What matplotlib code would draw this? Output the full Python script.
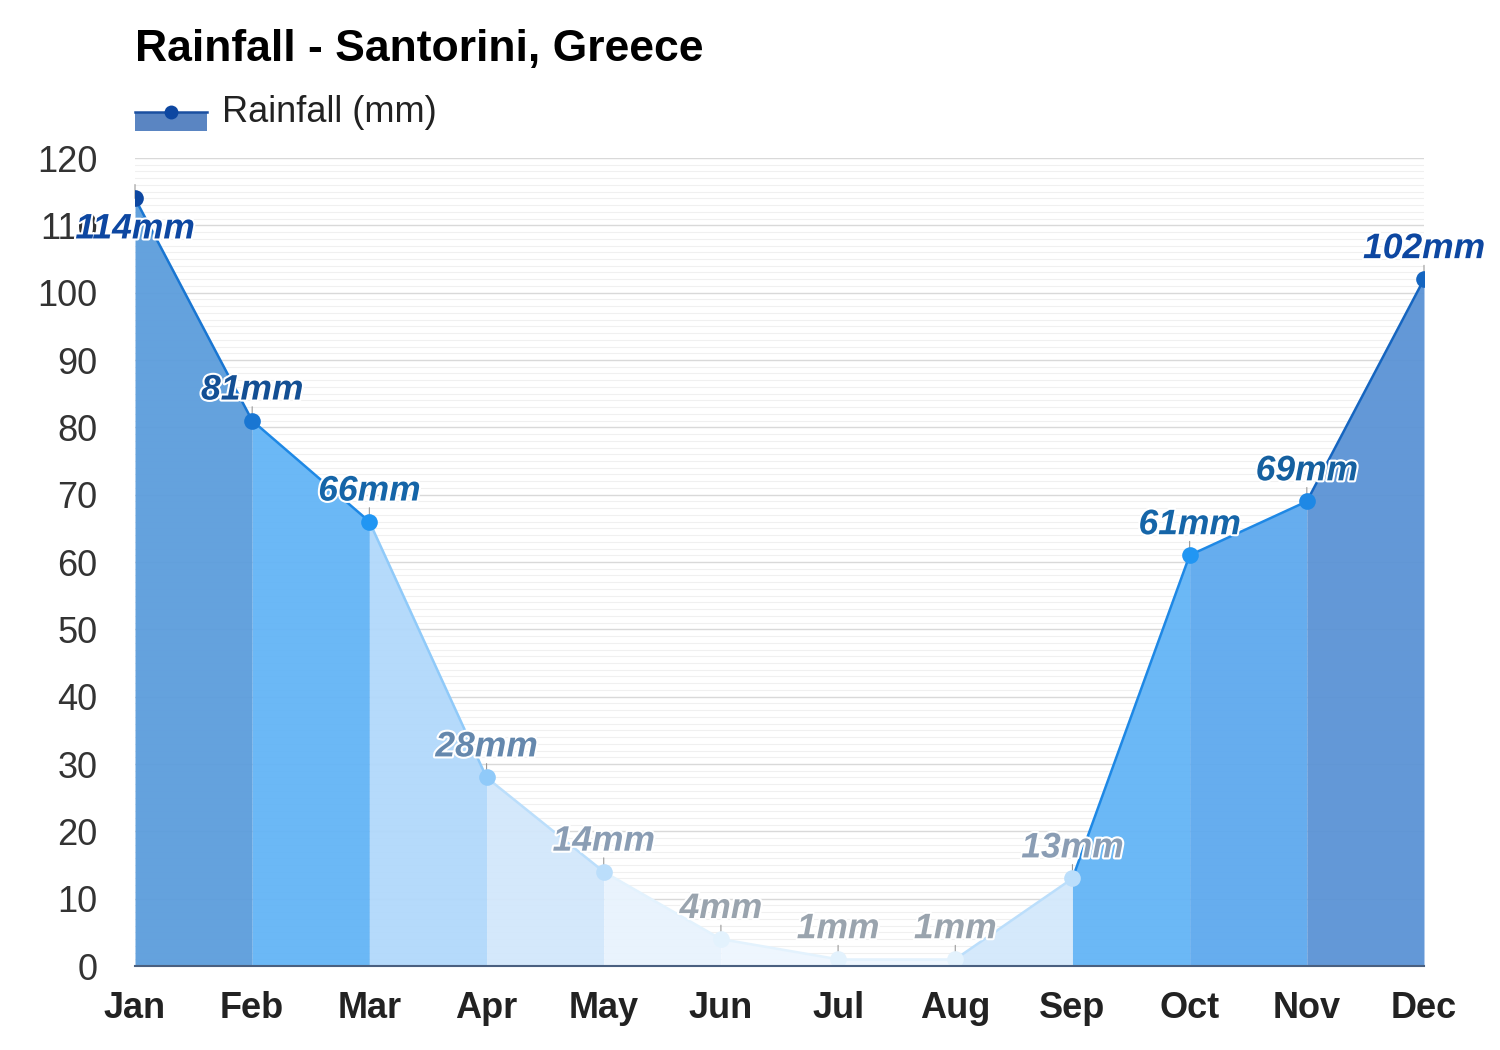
import matplotlib.pyplot as plt
import matplotlib.patheffects as pe
from matplotlib.patches import Rectangle
from matplotlib.lines import Line2D

plt.rcParams['font.family'] = ['Liberation Sans', 'DejaVu Sans']

# data
months = ['Jan', 'Feb', 'Mar', 'Apr', 'May', 'Jun', 'Jul', 'Aug', 'Sep', 'Oct', 'Nov', 'Dec']
rain = [114, 81, 66, 28, 14, 4, 1, 1, 13, 61, 69, 102]

# colours per month segment / point / label
fill_colors = ['#5c9ddc', '#63b4f6', '#b1d8fb', '#d2e7fb', '#e8f3fd', '#eef6fe',
               '#eef6fe', '#d3e8fb', '#63b4f6', '#5ea9ee', '#5b93d5']
line_colors = ['#1976d2', '#1e88e5', '#90caf9', '#bbdefb', '#e3f2fd', '#e3f2fd',
               '#e3f2fd', '#bbdefb', '#1e88e5', '#1e88e5', '#1565c0']
marker_colors = ['#0d47a1', '#1976d2', '#2196f3', '#90caf9', '#bbdefb', '#e3f2fd',
                 '#e3f2fd', '#e3f2fd', '#bbdefb', '#2196f3', '#1e88e5', '#1565c0']
label_colors = ['#0d47a1', '#134f94', '#1565a8', '#6588ad', '#8a9db4', '#9aa4ae',
                '#9aa4ae', '#9aa4ae', '#8a9db4', '#1565a8', '#1560a0', '#0d47a1']

fig = plt.figure(figsize=(15, 10.5), dpi=100)
ax = fig.add_axes([135 / 1500, 84 / 1050, 1289 / 1500, 808 / 1050])

x = list(range(len(months)))

# grid
for v in range(0, 121):
    if v % 10 == 0:
        ax.axhline(v, color='#d9d9d9', lw=1.0, zorder=0)
    else:
        ax.axhline(v, color='#f0f0f0', lw=0.8, zorder=0)

# segment fills and lines
for i in range(len(months) - 1):
    xs = [x[i], x[i + 1]]
    ys = [rain[i], rain[i + 1]]
    ax.fill_between(xs, ys, 0, color=fill_colors[i], lw=0, alpha=0.95, zorder=1)
    ax.plot(xs, ys, color=line_colors[i], lw=1.8, zorder=2, solid_capstyle='butt')

# markers
for i in range(len(months)):
    ax.plot(x[i], rain[i], 'o', ms=12, color=marker_colors[i], mec='none', zorder=4)

# data labels
for i in range(len(months)):
    off = -22 if i == 0 else 22
    ax.annotate('', xy=(x[i], rain[i]), xytext=(0, 10), textcoords='offset points',
                arrowprops=dict(arrowstyle='-', color='#999999', lw=0.8,
                                shrinkA=0, shrinkB=0), zorder=3)
    ax.annotate(f'{rain[i]}mm', xy=(x[i], rain[i]), xytext=(0, off),
                textcoords='offset points', ha='center', va='center',
                fontsize=25.5, fontweight='bold', fontstyle='italic',
                color=label_colors[i], zorder=5, annotation_clip=False,
                path_effects=[pe.withStroke(linewidth=3, foreground='white')])

ax.set_xlim(0, 11)
ax.set_ylim(0, 120)
ax.set_xticks(x)
ax.set_xticklabels(months, fontsize=26, fontweight='bold', color='#222222')
ax.set_yticks(range(0, 121, 10))
ax.tick_params(axis='y', length=0, pad=27, labelsize=26, labelcolor='#333333')
ax.tick_params(axis='x', length=0, pad=18)
for s in ['top', 'right', 'left']:
    ax.spines[s].set_visible(False)
ax.spines['bottom'].set_color('#4a6080')
ax.spines['bottom'].set_linewidth(1.5)
ax.spines['bottom'].set_zorder(6)

# title
fig.text(135 / 1500, 1 - 50 / 1050, 'Rainfall - Santorini, Greece', fontsize=32,
         fontweight='bold', color='#000000', ha='left', va='center')

# legend
fig.add_artist(Rectangle((135 / 1500, 1 - 131 / 1050), 72 / 1500, 19 / 1050,
                         transform=fig.transFigure, color='#5a85c2', lw=0))
fig.add_artist(Line2D([135 / 1500, 207 / 1500], [1 - 112 / 1050, 1 - 112 / 1050],
                      transform=fig.transFigure, color='#1a4fa0', lw=1.8))
fig.add_artist(Line2D([171 / 1500], [1 - 112 / 1050], transform=fig.transFigure,
                      marker='o', ms=10, color='#0d47a1', mec='none'))
fig.text(222 / 1500, 1 - 113 / 1050, 'Rainfall (mm)', fontsize=26, color='#222222',
         ha='left', va='center')

fig.savefig('out.png', dpi=100, facecolor='white')
